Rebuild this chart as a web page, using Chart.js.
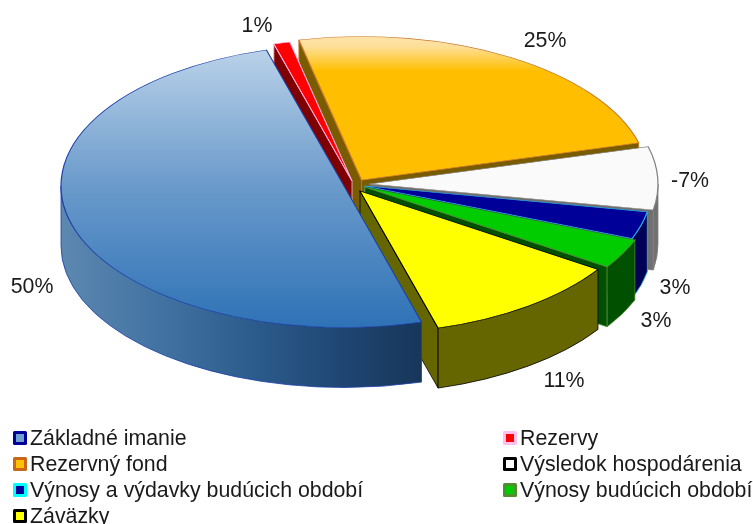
<!DOCTYPE html>
<html>
<head>
<meta charset="utf-8">
<style>html,body{margin:0;padding:0;background:#fff}canvas{display:block}</style>
<script src="https://cdn.jsdelivr.net/npm/chart.js@4"></script>
</head>
<body>
<canvas id="c" width="753" height="524"></canvas>
<script>
const categories = ['Základné imanie','Rezervy','Rezervný fond','Výsledok hospodárenia','Výnosy a výdavky budúcich období','Výnosy budúcich období','Záväzky'];
const values = [50.0, 0.92, 24.33, 7.06, 3.08, 3.31, 11.31];
const percentLabels = ['50%','1%','25%','-7%','3%','3%','11%'];
const sliceFill = ['#6a9acb','#ff0000','#ffbf00','#fafafa','#000099','#00cc00','#ffff00'];
const sliceBorder = ['#1c3fa8','#ffb0e0','#c8762a','#808080','#29b6e6','#4f8f30','#000000'];
const wallFill = ['#2f5f8f','#7f0000','#7a5c00','#707070','#000055','#005000','#666600'];
const legendFill = ['#6fa0d0','#ff0000','#ffc000','#ffffff','#000099','#00cc00','#ffff00'];
const legendBorder = ['#000099','#ffc0f0','#c8661a','#000000','#00ffff','#4f8f30','#000000'];
const sliceCenter = [[344,186],[352,181],[361.5,180],[370,184],[365,186],[365,187],[360,191]];
const sliceRadius = [283,285,287,288,287,290,285];
const labelPos = [[32,287],[257,26],[545,41],[690,181],[675,288],[656,321],[564,381]];
const legendCols = [0,1,0,1,0,1,0];
const legendRows = [0,0,1,1,2,2,3];
const wallOrder = [2,1,3,4,5,6,0];

const SQUASH = 0.5, DEPTH = 60, BASE_RADIUS = 283;
const FONT = '21.33px "Liberation Sans", Arial, sans-serif';

function topFill(ctx){
  const chart = ctx.chart, i = ctx.dataIndex, a = chart.chartArea;
  if(!a) return sliceFill[i];
  const cy = (a.top + a.bottom)/2, g = chart.ctx;
  if(i === 0){
    const gr = g.createLinearGradient(0, cy-BASE_RADIUS, 0, cy+BASE_RADIUS);
    gr.addColorStop(0,'#bdd4ea'); gr.addColorStop(0.5,'#6a9acb'); gr.addColorStop(1,'#2e72b6');
    return gr;
  }
  if(i === 2){
    const gr = g.createLinearGradient(0, cy-BASE_RADIUS, 0, cy+BASE_RADIUS);
    gr.addColorStop(0,'#fde3a8'); gr.addColorStop(0.035,'#fddf98'); gr.addColorStop(0.12,'#ffbf00'); gr.addColorStop(1,'#ffbf00');
    return gr;
  }
  return sliceFill[i];
}
function wallPaint(g, i){
  if(i !== 0) return wallFill[i];
  const gr = g.createLinearGradient(62, 0, 422, 0);
  gr.addColorStop(0,'#5c88b0'); gr.addColorStop(0.3,'#3f70a0'); gr.addColorStop(0.55,'#2a5a8a'); gr.addColorStop(0.8,'#1e4470'); gr.addColorStop(1,'#17365a');
  return gr;
}

const pie3d = {
  id:'pie3d',
  beforeDatasetsDraw(chart){
    const g = chart.ctx, arcs = chart.getDatasetMeta(0).data;
    const geo = arcs.map((arc,i)=>({
      cx: sliceCenter[i][0], cy: sliceCenter[i][1],
      s: arc.startAngle, e: arc.endAngle, r: sliceRadius[i], k: sliceRadius[i]/arc.outerRadius
    }));
    // side walls, back to front
    wallOrder.forEach(i=>{
      const p = geo[i], arc = arcs[i];
      g.save();
      g.fillStyle = wallPaint(g,i);
      g.strokeStyle = arc.options.borderColor;
      g.lineWidth = 0.8;
      g.lineJoin = 'round';
      const quad = ang=>{
        const tx = p.cx + Math.cos(ang)*p.r, ty = p.cy + Math.sin(ang)*p.r*SQUASH;
        g.beginPath();
        g.moveTo(p.cx,p.cy); g.lineTo(tx,ty); g.lineTo(tx,ty+DEPTH); g.lineTo(p.cx,p.cy+DEPTH); g.closePath();
        g.fill(); g.stroke();
      };
      if(Math.cos(p.s) < 0) quad(p.s);
      if(Math.cos(p.e) > 0) quad(p.e);
      for(let k=-1;k<=1;k++){
        const lo = Math.max(p.s, 2*Math.PI*k), hi = Math.min(p.e, 2*Math.PI*k+Math.PI);
        if(hi > lo){
          g.beginPath();
          g.ellipse(p.cx,p.cy,p.r,p.r*SQUASH,0,lo,hi);
          g.ellipse(p.cx,p.cy+DEPTH,p.r,p.r*SQUASH,0,hi,lo,true);
          g.closePath();
          g.fill(); g.stroke();
        }
      }
      g.restore();
    });
    // top faces drawn by the library's arc elements
    arcs.forEach((arc,i)=>{
      g.save();
      g.translate(geo[i].cx, geo[i].cy);
      g.scale(geo[i].k, geo[i].k*SQUASH);
      g.translate(-arc.x,-arc.y);
      arc.draw(g);
      g.restore();
    });
    return false;
  },
  afterDraw(chart){
    const g = chart.ctx;
    g.save();
    g.font = FONT; g.fillStyle = '#1a1a1a';
    g.textAlign = 'center'; g.textBaseline = 'middle';
    percentLabels.forEach((t,i)=> g.fillText(t,labelPos[i][0],labelPos[i][1]));
    g.textAlign = 'left'; g.textBaseline = 'alphabetic';
    categories.forEach((t,i)=>{
      const col = legendCols[i], row = legendRows[i];
      const bx = col ? 503 : 13, by = 431 + row*26;
      g.fillStyle = legendBorder[i];
      g.beginPath(); g.roundRect(bx,by,14,14,1.5); g.fill();
      g.fillStyle = legendFill[i];
      g.fillRect(bx+3,by+3,8,8);
      g.fillStyle = '#1a1a1a';
      g.fillText(t,bx+17,by+14);
    });
    g.restore();
  }
};

new Chart(document.getElementById('c'),{
  type:'pie',
  data:{labels:categories,datasets:[{
    data:values,
    radius:BASE_RADIUS,
    rotation:164.1,
    clip:false,
    backgroundColor:topFill,
    borderColor:sliceBorder,
    borderWidth:1.2,
    borderJoinStyle:'miter'
  }]},
  options:{
    responsive:false,animation:false,
    layout:{padding:0},
    plugins:{legend:{display:false},tooltip:{enabled:false}}
  },
  plugins:[pie3d]
});
</script>
</body>
</html>
